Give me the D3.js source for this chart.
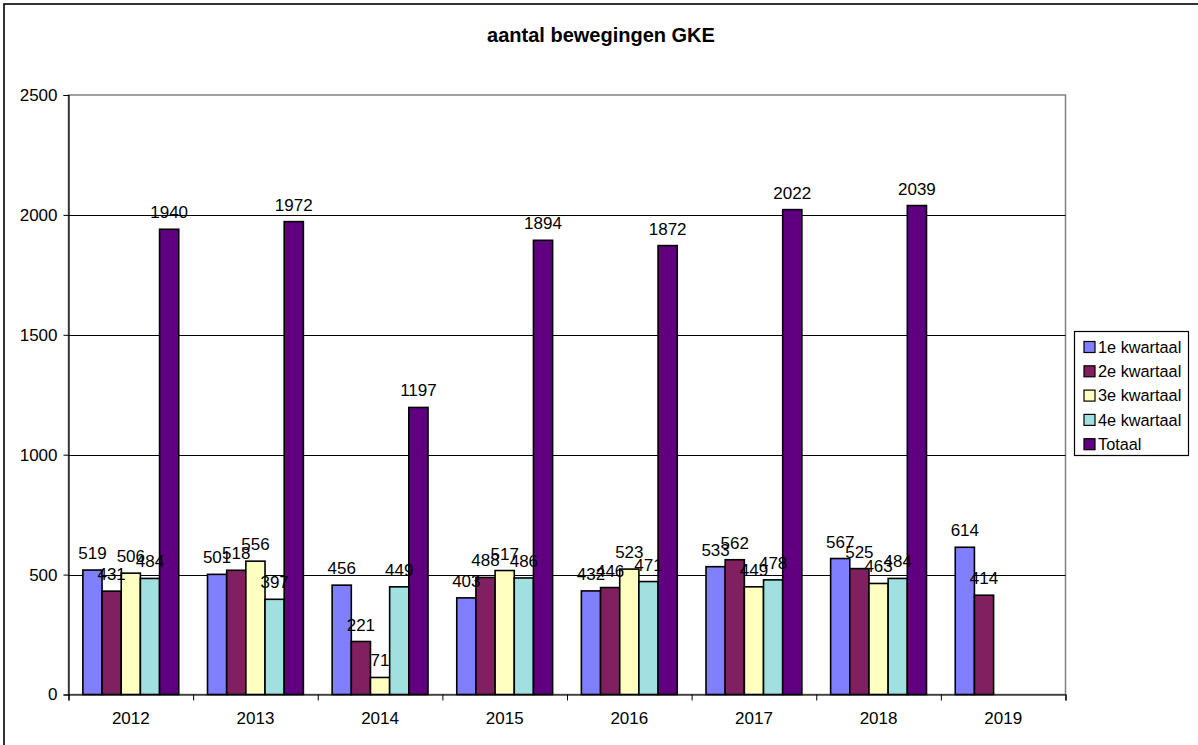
<!DOCTYPE html>
<html>
<head>
<meta charset="utf-8">
<script src="https://cdn.jsdelivr.net/npm/d3@7"></script>
<style>
  body { margin: 0; background: #fff; }
  svg text { font-family: "Liberation Sans", Arial, sans-serif; fill: #000; }
</style>
</head>
<body>
<div id="container"></div>
<script>
// data
const years = ["2012", "2013", "2014", "2015", "2016", "2017", "2018", "2019"];
const seriesNames = ["1e kwartaal", "2e kwartaal", "3e kwartaal", "4e kwartaal", "Totaal"];
const q1 = [519, 501, 456, 403, 432, 533, 567, 614];
const q2 = [431, 518, 221, 488, 446, 562, 525, 414];
const q3 = [506, 556, 71, 517, 523, 449, 463, null];
const q4 = [484, 397, 449, 486, 471, 478, 484, null];
const totaal = [1940, 1972, 1197, 1894, 1872, 2022, 2039, null];
const yTicks = [0, 500, 1000, 1500, 2000, 2500];
const colors = ["#8080FF", "#802060", "#FFFFC0", "#A0E0E0", "#600080"];

const allSeries = [q1, q2, q3, q4, totaal];

const W = 1198, H = 745;
const plot = {left: 68.5, right: 1065.5, top: 95, bottom: 694.5};
const fs = "17px"; // labels + ticks

const svg = d3.select("#container").append("svg")
  .attr("width", W)
  .attr("height", H);

// outer chart border (right/bottom run off the picture)
svg.append("rect")
  .attr("x", 4).attr("y", 4)
  .attr("width", W + 10).attr("height", H + 10)
  .attr("fill", "white")
  .attr("stroke", "black")
  .attr("stroke-width", 1.6);

// title
svg.append("text")
  .attr("x", 601)
  .attr("y", 42)
  .attr("text-anchor", "middle")
  .style("font-size", "20px")
  .style("font-weight", "bold")
  .text("aantal bewegingen GKE");

const x = d3.scaleBand()
  .domain(years)
  .range([plot.left, plot.right])
  .padding(0);

const xs = d3.scaleBand()
  .domain(seriesNames)
  .range([0, x.bandwidth()])
  .paddingInner(0)
  .paddingOuter(0.75);

const y = d3.scaleLinear()
  .domain([0, 2500])
  .range([plot.bottom, plot.top]);

// plot frame (grey top/right)
svg.append("rect")
  .attr("x", plot.left).attr("y", plot.top)
  .attr("width", plot.right - plot.left)
  .attr("height", plot.bottom - plot.top)
  .attr("fill", "none")
  .attr("stroke", "#808080")
  .attr("stroke-width", 1.5);

// grid lines
svg.append("g")
  .selectAll("line")
  .data(yTicks.filter(d => d > 0 && d < 2500))
  .join("line")
  .attr("x1", plot.left).attr("x2", plot.right)
  .attr("y1", d => Math.round(y(d)) + 0.5)
  .attr("y2", d => Math.round(y(d)) + 0.5)
  .attr("stroke", "black")
  .attr("stroke-width", 1);

// y axis
svg.append("g")
  .attr("transform", `translate(${plot.left},0)`)
  .call(d3.axisLeft(y).tickValues(yTicks).tickFormat(d3.format("d")).tickSize(5).tickPadding(6))
  .call(g => g.select(".domain").attr("stroke", "black").attr("stroke-width", 1.2))
  .call(g => g.selectAll("text").style("font-size", fs));

// bars
const groups = svg.append("g")
  .selectAll("g")
  .data(years)
  .join("g")
  .attr("transform", d => `translate(${x(d)},0)`);

groups.each(function(yr, i) {
  const g = d3.select(this);
  const vals = seriesNames.map((s, k) => ({s, k, v: allSeries[k][i]})).filter(d => d.v != null);
  g.selectAll("rect")
    .data(vals)
    .join("rect")
    .attr("x", d => xs(d.s))
    .attr("y", d => y(d.v))
    .attr("width", xs.bandwidth())
    .attr("height", d => y(0) - y(d.v))
    .attr("fill", d => colors[d.k])
    .attr("stroke", "black")
    .attr("stroke-width", 1.6);
});

// value labels drawn after all bars so they sit on top
groups.each(function(yr, i) {
  const g = d3.select(this);
  const vals = seriesNames.map((s, k) => ({s, k, v: allSeries[k][i]})).filter(d => d.v != null);
  g.selectAll("text.lbl")
    .data(vals)
    .join("text")
    .attr("class", "lbl")
    .attr("x", d => xs(d.s) + xs.bandwidth() / 2)
    .attr("y", d => y(d.v) - 11)
    .attr("text-anchor", "middle")
    .style("font-size", fs)
    .text(d => d.v);
});

// x axis line + ticks between categories
const xi = d3.scaleLinear().domain([0, years.length]).range([plot.left, plot.right]);
svg.append("g")
  .attr("transform", `translate(0,${plot.bottom})`)
  .call(d3.axisBottom(xi).ticks(years.length).tickSize(6).tickFormat(""))
  .call(g => g.select(".domain").attr("stroke", "black").attr("stroke-width", 1.2));

svg.append("g")
  .selectAll("text")
  .data(years)
  .join("text")
  .attr("x", d => x(d) + x.bandwidth() / 2)
  .attr("y", 724)
  .attr("text-anchor", "middle")
  .style("font-size", fs)
  .text(d => d);

// legend
const legend = svg.append("g");
legend.append("rect")
  .attr("x", 1074.5).attr("y", 331.5)
  .attr("width", 114).attr("height", 124)
  .attr("fill", "white")
  .attr("stroke", "black")
  .attr("stroke-width", 1.2);

const items = legend.selectAll("g.item")
  .data(seriesNames)
  .join("g")
  .attr("class", "item")
  .attr("transform", (d, i) => `translate(1084,${347 + i * 24.3})`);

items.append("rect")
  .attr("x", 0).attr("y", -5.5)
  .attr("width", 11).attr("height", 11)
  .attr("fill", (d, i) => colors[i])
  .attr("stroke", "black")
  .attr("stroke-width", 1.2);

items.append("text")
  .attr("x", 14)
  .attr("y", 5.8)
  .style("font-size", "16.3px")
  .text(d => d);
</script>
</body>
</html>
